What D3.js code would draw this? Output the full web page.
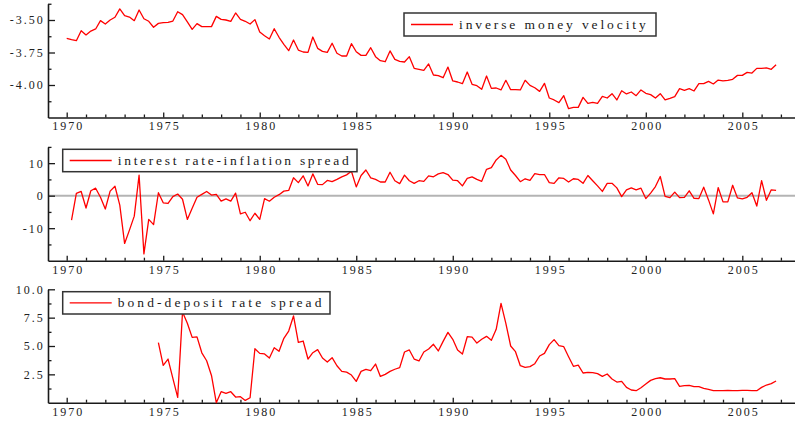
<!DOCTYPE html>
<html><head><meta charset="utf-8">
<script src="https://cdn.jsdelivr.net/npm/d3@7/dist/d3.min.js"></script>
<style>
body{margin:0;background:#fff;}
svg{display:block;}
</style></head>
<body><svg id="c" width="795" height="423"></svg>
<script>
// ---- data (quarterly) ----
const velocityStart = 1970.0;
const velocity = [
-3.641,-3.651,-3.659,-3.582,
-3.615,-3.585,-3.569,-3.505,
-3.531,-3.500,-3.479,-3.415,
-3.467,-3.477,-3.505,-3.423,
-3.490,-3.510,-3.556,-3.526,
-3.520,-3.518,-3.508,-3.436,
-3.459,-3.515,-3.572,-3.528,
-3.551,-3.551,-3.551,-3.472,
-3.495,-3.500,-3.510,-3.446,
-3.495,-3.510,-3.531,-3.497,
-3.592,-3.621,-3.646,-3.567,
-3.633,-3.687,-3.736,-3.654,
-3.731,-3.746,-3.749,-3.631,
-3.718,-3.741,-3.749,-3.679,
-3.756,-3.777,-3.777,-3.682,
-3.744,-3.772,-3.772,-3.713,
-3.782,-3.813,-3.821,-3.738,
-3.803,-3.818,-3.823,-3.782,
-3.872,-3.879,-3.887,-3.838,
-3.923,-3.928,-3.944,-3.862,
-3.969,-3.977,-3.990,-3.900,
-3.995,-4.005,-4.033,-3.931,
-4.026,-4.023,-4.038,-3.964,
-4.036,-4.036,-4.038,-3.964,
-4.003,-4.021,-4.049,-3.987,
-4.100,-4.115,-4.136,-4.082,
-4.182,-4.172,-4.172,-4.095,
-4.141,-4.133,-4.141,-4.087,
-4.100,-4.067,-4.115,-4.044,
-4.069,-4.054,-4.082,-4.038,
-4.064,-4.074,-4.100,-4.067,
-4.115,-4.103,-4.090,-4.028,
-4.041,-4.028,-4.046,-3.990,
-3.990,-3.972,-3.992,-3.962,
-3.969,-3.964,-3.956,-3.926,
-3.926,-3.903,-3.908,-3.872,
-3.872,-3.869,-3.879,-3.844];

const inflSpreadStart = 1970.25;
const inflSpread = [
-7.5,0.7,1.3,
-3.8,1.5,2.3,-0.5,
-4.1,1.4,2.9,-2.9,
-14.7,-10.6,-6.3,6.3,
-17.9,-7.3,-8.9,0.9,
-2.2,-2.4,-0.3,0.5,
-1.1,-7.3,-3.9,-0.5,
0.4,1.3,0.2,0.4,
-1.7,-1.0,-1.7,0.8,
-5.6,-5.1,-7.7,-5.4,
-7.3,-0.9,-1.7,-0.5,
0.3,1.4,1.6,5.5,
4.0,6.1,3.0,6.7,
3.5,3.4,4.7,4.3,
5.0,5.8,6.4,7.5,
2.7,6.2,7.9,5.5,
5.0,4.2,4.2,7.2,
4.6,3.7,6.3,4.6,
3.8,4.6,4.4,6.1,
5.8,6.7,7.1,6.5,
4.8,4.6,3.0,5.3,
5.8,5.0,4.4,8.1,
8.6,11.0,12.4,11.2,
7.9,6.2,4.3,5.2,
4.7,6.8,6.5,6.5,
4.0,3.8,5.5,5.3,
4.2,5.2,5.0,3.8,
6.2,4.6,3.0,1.3,
3.8,3.8,2.4,-0.3,
1.8,2.4,1.8,2.3,
-0.9,0.8,2.8,5.9,
-0.2,-0.6,1.1,-0.6,
-0.5,1.5,-0.8,-0.9,
2.6,-1.3,-5.6,2.5,
-1.9,-1.9,3.2,-0.7,
-1.0,-0.5,0.9,-3.2,
4.6,-1.4,1.8,1.6];

const bondSpreadStart = 1974.75;
const bondSpread = [
5.3,
3.3,3.85,2.15,0.47,
8.0,7.0,5.76,5.8,
4.4,3.7,2.4,0.0,
0.97,0.82,0.97,0.5,
0.53,0.2,0.44,4.76,
4.35,4.3,3.94,4.85,
4.53,5.68,6.32,7.65,
5.32,5.44,3.85,4.41,
4.68,3.94,3.59,3.97,
3.26,2.76,2.7,2.44,
1.88,2.76,2.94,2.82,
3.41,2.32,2.5,2.76,
2.95,3.09,4.47,4.65,
3.85,3.68,4.47,4.74,
5.15,4.56,5.41,6.2,
5.59,4.65,4.29,5.82,
5.79,5.26,5.59,5.85,
5.5,6.47,8.76,7.0,
5.0,4.5,3.26,3.12,
3.18,3.44,4.12,4.35,
5.12,5.56,5.03,4.94,
4.06,3.21,3.32,2.62,
2.68,2.65,2.56,2.32,
2.53,2.09,1.82,1.88,
1.35,1.12,1.06,1.32,
1.65,1.97,2.12,2.2,
2.09,2.09,2.12,1.44,
1.5,1.53,1.41,1.41,
1.26,1.18,1.06,1.06,
1.06,1.09,1.06,1.06,
1.09,1.09,1.06,1.06,
1.35,1.56,1.68,1.91];

const majorYears = [1970,1975,1980,1985,1990,1995,2000,2005];
const minorYears = d3.range(1970,2008).filter(y=>y%5!==0);

const legendLabels = ["inverse money velocity","interest rate-inflation spread","bond-deposit rate spread"];

const yTicks1 = [-3.5,-3.75,-4.0];
const yMinor1 = [-3.375,-3.625,-3.875,-4.125];
const yTicks2 = [10,0,-10];
const yMinor2 = [15,5,-5,-15];
const yTicks3 = [10,7.5,5,2.5];
const yMinor3 = [8.75,6.25,3.75,1.25];

// ---- layout ----
const svg = d3.select("#c");
const x = d3.scaleLinear().domain([1969.031, 2007.73]).range([48, 795]);
const SERIF = "'Liberation Serif','Times New Roman',serif";
const hy = f => d => f(d).replace("\u2212","-");

const panels = [
  {data: velocity, start: velocityStart, domain:[-4.25,-3.375], range:[117.5,3.75], ticks:yTicks1, minor:yMinor1, fmt:hy(d3.format(".2f")),
   legend:{x:404,y:13,w:252,h:23,tl:186.7}},
  {data: inflSpread, start: inflSpreadStart, domain:[-20,15], range:[260.7,146.9], ticks:yTicks2, minor:yMinor2, fmt:hy(d3.format("d")), zero:true,
   legend:{x:62.7,y:149.3,w:294.3,h:22.4,tl:231}},
  {data: bondSpread, start: bondSpreadStart, domain:[0,10], range:[402.7,289.3], ticks:yTicks3, minor:yMinor3, fmt:hy(d3.format(".1f")),
   legend:{x:62.7,y:291.7,w:267.3,h:22.3,tl:203.7}}
];

function styleLabels(a){
  a.attr("font-family",SERIF).attr("font-size",12);
  a.selectAll(".tick text")
    .style("font-family",SERIF).style("font-size","12px")
    .style("letter-spacing","2px").attr("fill","#222");
}

panels.forEach((p,i)=>{
  const y = d3.scaleLinear().domain(p.domain).range(p.range);
  const g = svg.append("g");
  const yb = p.range[0];

  if (p.zero) {
    g.append("line").attr("x1",48).attr("x2",795).attr("y1",y(0)).attr("y2",y(0))
      .attr("stroke","#b4b4b4").attr("stroke-width",2);
  }

  // x axis
  const xa = g.append("g").attr("transform",`translate(0,${yb})`)
    .call(d3.axisBottom(x).tickValues(majorYears).tickSizeInner(-5).tickSizeOuter(0).tickPadding(4.3).tickFormat(d3.format("d")));
  xa.selectAll(".tick text").attr("dx","1px");
  styleLabels(xa);
  const xm = g.append("g").attr("transform",`translate(0,${yb})`)
    .call(d3.axisBottom(x).tickValues(minorYears).tickSizeInner(-3).tickSizeOuter(0).tickFormat(""));
  xm.select(".domain").remove();

  // y axis
  const ya = g.append("g").attr("transform",`translate(48,0)`)
    .call(d3.axisLeft(y).tickValues(p.ticks).tickSizeInner(-7).tickSizeOuter(0).tickPadding(3.3).tickFormat(p.fmt));
  styleLabels(ya);
  const ym = g.append("g").attr("transform",`translate(48,0)`)
    .call(d3.axisLeft(y).tickValues(p.minor).tickSizeInner(-3.5).tickSizeOuter(0).tickFormat(""));
  ym.select(".domain").remove();

  [xa,xm,ya,ym].forEach(a=>{
    a.selectAll(".domain").attr("stroke","#1a1a1a").attr("stroke-width",1.6);
    a.selectAll(".tick line").attr("stroke","#1a1a1a").attr("stroke-width",1.3);
  });

  // series
  const line = d3.line().x((d,k)=>x(p.start + k*0.25)).y(d=>y(d));
  g.append("path").datum(p.data).attr("d",line).attr("fill","none")
    .attr("stroke","#ff0000").attr("stroke-width",1.3).attr("stroke-linejoin","round");

  // legend
  const L = p.legend;
  const lg = g.append("g");
  lg.append("rect").attr("x",L.x).attr("y",L.y).attr("width",L.w).attr("height",L.h)
    .attr("fill","#fff").attr("stroke","#333").attr("stroke-width",1.5);
  const ly = L.y + L.h/2;
  lg.append("line").attr("x1",L.x+7).attr("x2",L.x+49).attr("y1",ly).attr("y2",ly)
    .attr("stroke","#ff0000").attr("stroke-width",1.3);
  lg.append("text").attr("x",L.x+55).attr("y",ly+4.5)
    .attr("font-family",SERIF).attr("font-size","13.5px")
    .attr("fill","#1a1a1a").attr("textLength",L.tl).attr("lengthAdjust","spacing")
    .text(legendLabels[i]);
});
</script></body></html>
